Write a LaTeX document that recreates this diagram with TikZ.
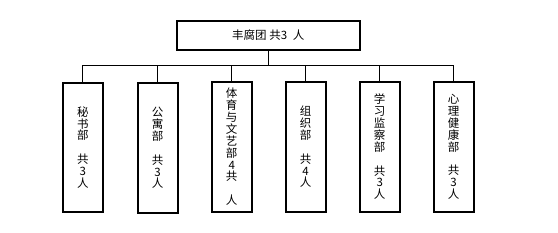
\documentclass[tikz,border=0pt]{standalone}
\usepackage{fontspec}
\newfontfamily\cjk{Noto Sans CJK SC}
\begin{document}
\begin{tikzpicture}[x=1pt,y=-1pt,
  box/.style={draw=black,line width=2pt,minimum width=40pt,minimum height=129.5pt,inner sep=0pt,align=center,
    font={\cjk\fontsize{11.5}{11.9}\selectfont}},
  topbox/.style={draw=black,line width=2pt,minimum width=183.3pt,minimum height=28.7pt,inner sep=0pt,
    font={\cjk\fontsize{11.5}{12}\selectfont}},
  conn/.style={draw=black,line width=1pt}]
\useasboundingbox (0,0) rectangle (558,233);
\node[topbox] (top) at (268.35,35.35) {\raisebox{-3pt}{丰腐团 共3\enspace 人}};
\coordinate (bus) at (268.35,65.3);
\node[box] (b1) at (82.85,147.5) {秘\\书\\部\\~\\共\\3\\人};
\node[box] (b2) at (157.5,148) {公\\寓\\部\\~\\共\\3\\人};
\node[box] (b3) at (231.7,146.85) {体\\育\\与\\文\\艺\\部\\4\\共\\~\\人};
\node[box] (b4) at (305.5,146.85) {组\\织\\部\\~\\共\\4\\人};
\node[box] (b5) at (379.7,146.85) {学\\习\\监\\察\\部\\~\\共\\3\\人};
\node[box] (b6) at (453.5,146.85) {心\\理\\健\\康\\部\\~\\共\\3\\人};
\draw[conn] (top.south) -- (bus);
\draw[conn] (b1.north) -- (b1.north |- bus) -- (b6.north |- bus) -- (b6.north);
\foreach \b in {b2,b3,b4,b5}{\draw[conn] (\b.north) -- (\b.north |- bus);}
\end{tikzpicture}
\end{document}
